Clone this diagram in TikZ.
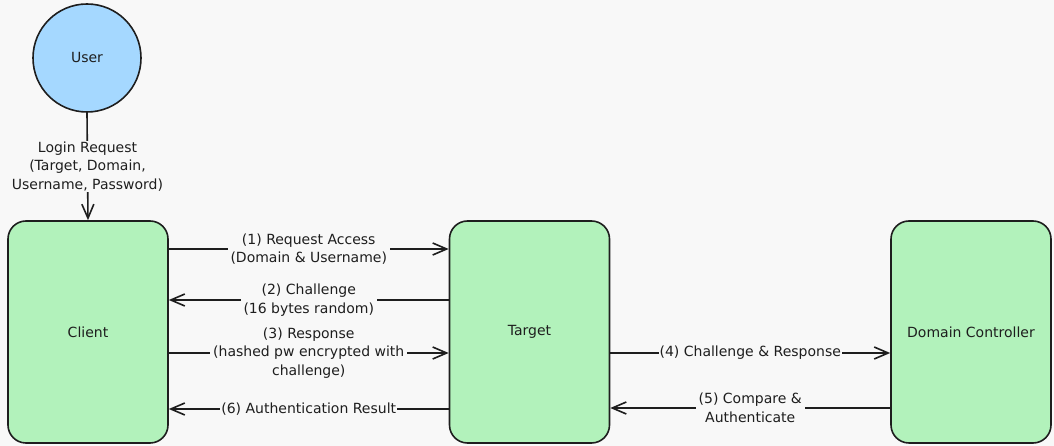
\documentclass[tikz,border=0pt]{standalone}
\usepackage{fontspec}
\setmainfont{DejaVu Sans}
\usetikzlibrary{arrows.meta}
\definecolor{bg}{HTML}{F8F8F8}
\definecolor{ink}{HTML}{1E1E1E}
\definecolor{userblue}{HTML}{A5D8FF}
\definecolor{boxgreen}{HTML}{B2F2BB}
\tikzset{
  entity/.style={draw=ink, line width=1.6pt, fill=boxgreen, rounded corners=18pt,
    minimum width=160pt, minimum height=222pt, inner sep=0pt, font=\fontsize{14}{16}\selectfont, text=ink},
  person/.style={draw=ink, line width=1.6pt, fill=userblue, circle, minimum size=108pt,
    inner sep=0pt, font=\fontsize{14}{16}\selectfont, text=ink},
  flow/.style={draw=ink, line width=1.6pt, -{Straight Barb[length=14pt,width=12pt,line width=1.6pt]}},
  flowlabel/.style={fill=bg, align=center, inner xsep=3pt, inner ysep=1pt, font=\fontsize{14}{18.5}\selectfont, text=ink}
}
\begin{document}
\begin{tikzpicture}[x=1pt,y=1pt]
\fill[bg] (0,0) rectangle (1054,446);
\useasboundingbox (0,0) rectangle (1054,446);
\node[person] (user) at (87,388) {User};
\node[entity] (client) at (88,114) {Client};
\node[entity] (target) at (529.5,114) {Target};
\node[entity] (dc) at (971,114) {Domain Controller};
% login
\draw[flow] (user.south) -- node[flowlabel]{Login Request\\(Target, Domain,\\Username, Password)} (client.north);
% (1)
\draw[flow] ([yshift=83pt]client.east) -- node[flowlabel]{(1) Request Access\\(Domain \& Username)} ([yshift=83pt]target.west);
% (2)
\draw[flow] ([yshift=32pt]target.west) -- node[flowlabel]{(2) Challenge\\(16 bytes random)} ([yshift=32pt]client.east);
% (3)
\draw[flow] ([yshift=-21pt]client.east) -- node[flowlabel]{(3) Response\\(hashed pw encrypted with\\challenge)} ([yshift=-21pt]target.west);
% (6)
\draw[flow] ([yshift=-77pt]target.west) -- node[flowlabel, inner xsep=1pt]{(6) Authentication Result} ([yshift=-77pt]client.east);
% (4)
\draw[flow] ([yshift=-21pt]target.east) -- node[flowlabel, inner xsep=1pt]{(4) Challenge \& Response} ([yshift=-21pt]dc.west);
% (5)
\draw[flow] ([yshift=-76pt]dc.west) -- node[flowlabel]{(5) Compare \&\\Authenticate} ([yshift=-76pt]target.east);
\end{tikzpicture}
\end{document}
